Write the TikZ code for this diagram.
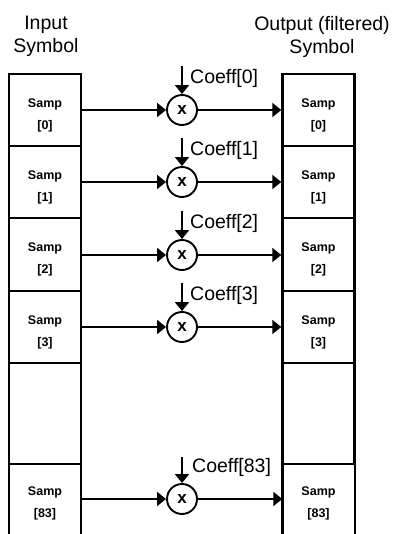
\documentclass[tikz,border=0pt]{standalone}
\usepackage{fontspec}
\setmainfont{Liberation Sans}
\usetikzlibrary{arrows.meta}
\tikzset{
  cell/.style={draw, line width=2.4pt, minimum width=72pt, inner sep=0pt},
  sampt/.style={font=\fontsize{12.5}{22}\selectfont\bfseries, align=center, inner sep=0pt},
  heading/.style={font=\fontsize{19.5}{23}\selectfont, align=center, inner sep=0pt, anchor=north},
  coefft/.style={font=\fontsize{19.5}{23}\selectfont, inner sep=0pt, anchor=west},
  mult/.style={draw, circle, line width=1.9pt, minimum size=30pt, inner sep=0pt, font=\fontsize{17}{17}\bfseries},
  flow/.style={line width=1.9pt, -{Triangle[length=9pt,width=14pt]}},
}
\begin{document}
\begin{tikzpicture}[x=1pt,y=-1pt]
\useasboundingbox (0,0) rectangle (393,534);
% headings
\node[heading] (hin) at (46,16) {Input\\Symbol};
\node[heading] (hout) at (322,16) {Output (filtered)\\Symbol};
% rows: index / cell centre / cell height / arrow row / label
\foreach \i/\c/\h/\a/\t in {0/110/72/110/0, 1/182/72/182/1, 2/254.5/73/255/2, 3/327/72/327/3}{
  \node[cell, minimum height=\h pt] (L\i) at (45,\c) {};
  \node[cell, minimum height=\h pt] (R\i) at (318.5,\c) {};
  \node[sampt] (LT\i) at (45,\c+5) {Samp\\{[\t]}};
  \node[sampt] (RT\i) at (318.5,\c+5) {Samp\\{[\t]}};
  \node[mult] (M\i) at (182,\a) {x};
  \coordinate (C\i) at (182,\a-44);
  \node[coefft] (K\i) at (190,\a-32) {Coeff[\t]};
  \draw[flow] (C\i) -- (M\i.north);
  \draw[flow] (L\i.east |- M\i.west) -- (M\i.west);
  \draw[flow] (M\i.east) -- (R\i.west |- M\i.east);
}
% empty cells
\node[cell, minimum height=101pt] (L4) at (45,413.5) {};
\node[cell, minimum height=101pt] (R4) at (318.5,413.5) {};
% last (open) cells
\node[minimum width=72pt, minimum height=70pt, inner sep=0pt] (L5) at (45,499) {};
\node[minimum width=72pt, minimum height=70pt, inner sep=0pt] (R5) at (318.5,499) {};
\draw[line width=2.4pt] (L5.south west) -- (L5.north west) -- (L5.north east) -- (L5.south east);
\draw[line width=2.4pt] (R5.south west) -- (R5.north west) -- (R5.north east) -- (R5.south east);
\node[sampt] (LT5) at (45,503) {Samp\\{[83]}};
\node[sampt] (RT5) at (318.5,503) {Samp\\{[83]}};
\node[mult] (M5) at (182,499) {x};
\coordinate (C5) at (182,457);
\node[coefft] (K5) at (192,467) {Coeff[83]};
\draw[flow] (C5) -- (M5.north);
\draw[flow] (L5.east) -- (M5.west);
\draw[flow] (M5.east) -- (R5.west);
\end{tikzpicture}
\end{document}
